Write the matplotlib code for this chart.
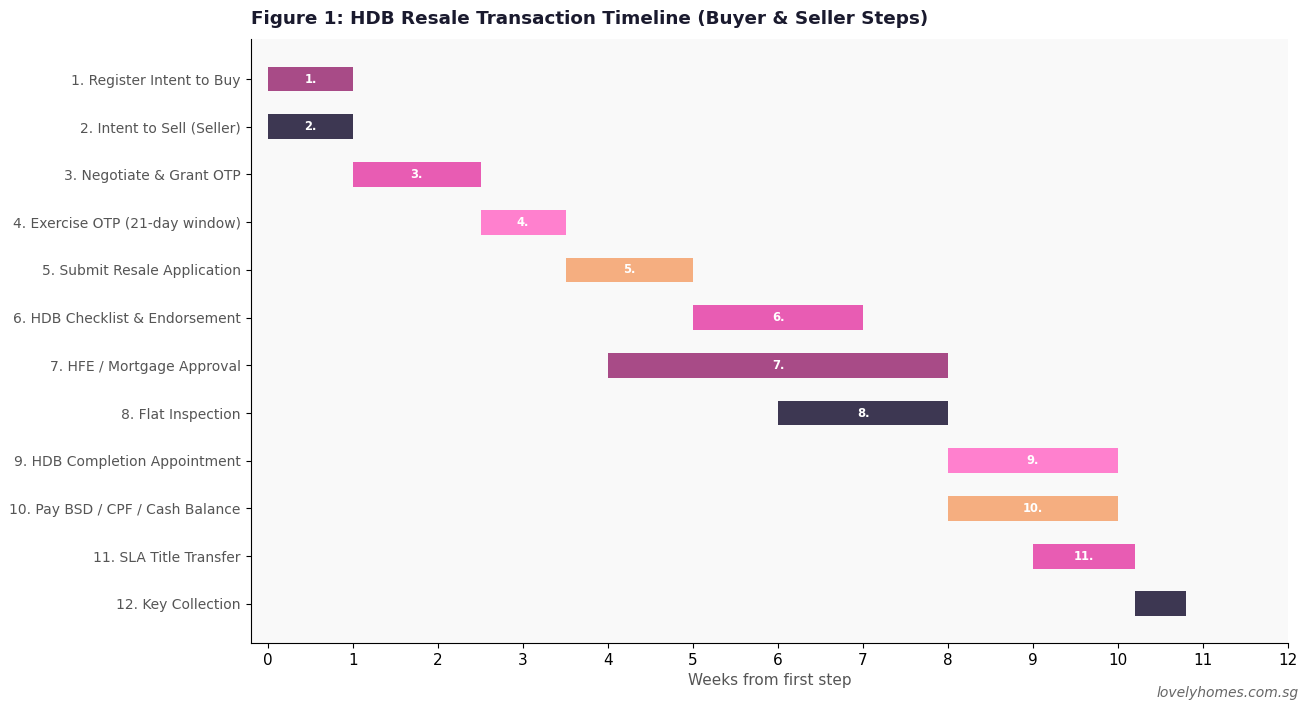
import matplotlib
matplotlib.use("Agg")
import matplotlib.pyplot as plt

steps = [
    "1. Register Intent to Buy",
    "2. Intent to Sell (Seller)",
    "3. Negotiate & Grant OTP",
    "4. Exercise OTP (21-day window)",
    "5. Submit Resale Application",
    "6. HDB Checklist & Endorsement",
    "7. HFE / Mortgage Approval",
    "8. Flat Inspection",
    "9. HDB Completion Appointment",
    "10. Pay BSD / CPF / Cash Balance",
    "11. SLA Title Transfer",
    "12. Key Collection",
]
starts = [0, 0, 1, 2.5, 3.5, 5, 4, 6, 8, 8, 9, 10.2]
durations = [1, 1, 1.5, 1, 1.5, 2, 4, 2, 2, 2, 1.2, 0.6]
bar_labels = ["1.", "2.", "3.", "4.", "5.", "6.", "7.", "8.", "9.", "10.", "11.", ""]
colors = ["#a84b87", "#3d3752", "#e85cb3", "#ff80ce", "#f5ae80", "#e85cb3",
          "#a84b87", "#3d3752", "#ff80ce", "#f5ae80", "#e85cb3", "#3d3752"]

fig = plt.figure(figsize=(13.11, 7.11), dpi=100)
ax = fig.add_axes([251/1311, 1-643/711, (1288-251)/1311, (643-39)/711])
ax.set_facecolor("#f9f9f9")

ypos = list(range(len(steps)))
ax.barh(ypos, durations, left=starts, height=0.52, color=colors)
for y, s, d, lab in zip(ypos, starts, durations, bar_labels):
    if lab:
        ax.text(s + d/2, y, lab, ha="center", va="center", color="white",
                fontsize=8.3, fontweight="bold")

ax.set_yticks(ypos)
ax.set_yticklabels(steps, fontsize=10, color="#555555")
ax.set_ylim(11.82, -0.84)
ax.set_xlim(-0.2, 12)
ax.set_xticks(range(0, 13))
ax.tick_params(axis="x", labelsize=11, colors="black")
ax.tick_params(axis="y", pad=4)
ax.set_xlabel("Weeks from first step", fontsize=11, color="#555555", labelpad=4)
for sp in ["top", "right"]:
    ax.spines[sp].set_visible(False)

fig.text(251/1311, 1-19/711, "Figure 1: HDB Resale Transaction Timeline (Buyer & Seller Steps)",
         fontsize=13.2, fontweight="bold", color="#1a1a2e", ha="left", va="center")
fig.text(1299/1311, 1-693/711, "lovelyhomes.com.sg", fontsize=10, style="italic",
         color="#666666", ha="right", va="center")

fig.savefig("out.png", dpi=100)
